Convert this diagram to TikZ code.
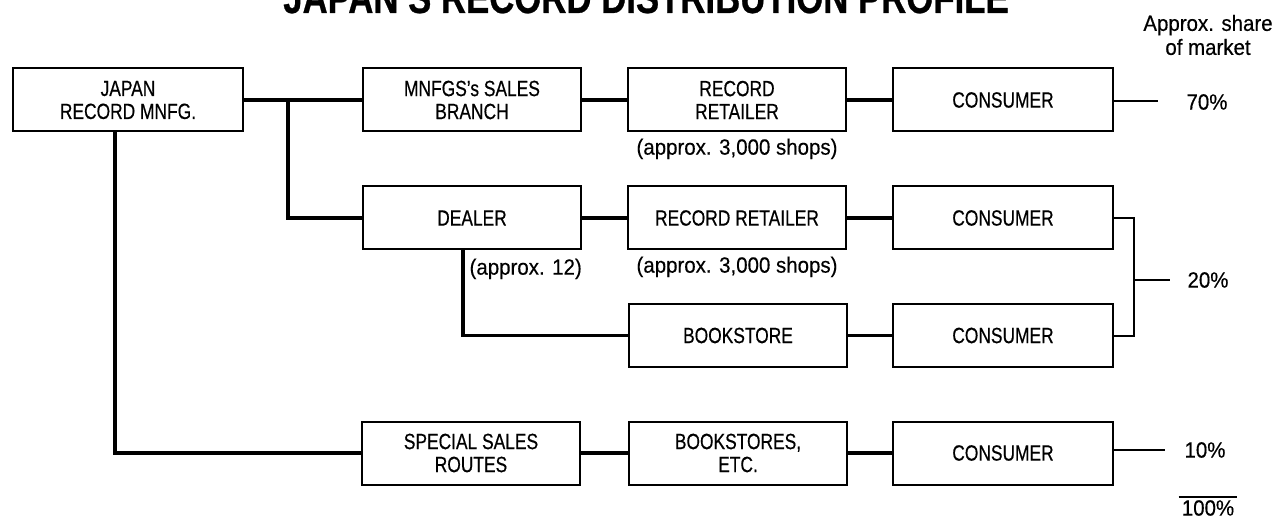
\documentclass[tikz,border=0pt]{standalone}
\usepackage{fontspec}
\setmainfont{Liberation Sans}[FakeStretch=0.79,FakeBold=0.5]
\newfontfamily\notefont{Liberation Sans}[FakeStretch=0.93,FakeBold=0.4]
\newfontfamily\titlefont{Liberation Sans Bold}[FakeStretch=0.79,FakeBold=0.6]
\usetikzlibrary{positioning}
\tikzset{
  box/.style   = {draw, line width=2pt, rectangle, minimum height=63pt,
                  minimum width=218pt, inner sep=0pt, align=center,
                  font=\fontsize{22}{23}\selectfont},
  note/.style  = {inner sep=0pt, font=\notefont\fontsize{22}{24}\selectfont},
  link/.style  = {line width=3.5pt, line join=miter},
  share/.style = {line width=1.6pt, line join=miter},
}

\begin{document}
\begin{tikzpicture}[x=1pt,y=-1pt]
\useasboundingbox (0,0) rectangle (1276,521);
\node[anchor=base,font=\titlefont\fontsize{44}{44}\selectfont] (title) at (646,13) {JAPAN’S RECORD DISTRIBUTION PROFILE};
\node[note,align=center] (head) at (1208,35) {Approx. share\\of market};
\node[box,minimum width=230pt] (mfr) at (128,100) {JAPAN\\RECORD MNFG.};
\node[box] (branch) at (472,100) {MNFGS’s SALES\\BRANCH};
\node[box] (retailA) at (737,100) {RECORD\\RETAILER};
\node[box,minimum width=220pt] (consA) at (1003,100) {CONSUMER};
\node[box] (dealer) at (472,218) {DEALER};
\node[box] (retailB) at (737,218) {RECORD RETAILER};
\node[box,minimum width=220pt] (consB) at (1003,218) {CONSUMER};
\node[box] (book) at (738,335.5) {BOOKSTORE};
\node[box,minimum width=220pt] (consC) at (1003,335.5) {CONSUMER};
\node[box] (special) at (471,453) {SPECIAL SALES\\ROUTES};
\node[box] (bookEtc) at (738,453) {BOOKSTORES,\\ETC.};
\node[box,minimum width=220pt] (consD) at (1003,453) {CONSUMER};
\node[note,below=6pt of retailA] (shopsA) {(approx. 3,000 shops)};
\node[note,below=6pt of retailB] (shopsB) {(approx. 3,000 shops)};
\node[note,below left=8pt and 0pt of dealer.south east] (dealers) {(approx. 12)};
\node[note] (pa) at (1207,102) {70\%};
\node[note] (pb) at (1208,280) {20\%};
\node[note] (pd) at (1205,450) {10\%};
\node[note] (total) at (1208,508) {100\%};
\coordinate (split) at (288,100);
\coordinate (ea) at (1158,101);
\coordinate (jb) at (1134,280);
\coordinate (eb) at (1170,280);
\coordinate (ed) at (1165,450);
\draw[link] (mfr) -- (branch);
\draw[link] (split) |- (dealer.west);
\draw[link] ([xshift=-13pt]mfr.south) |- (special.west);
\draw[link] ([xshift=-9pt]dealer.south) |- (book.west);
\draw[link] (branch) -- (retailA);
\draw[link] (retailA) -- (consA);
\draw[link] (dealer) -- (retailB);
\draw[link] (retailB) -- (consB);
\draw[link] (book) -- (consC);
\draw[link] (special) -- (bookEtc);
\draw[link] (bookEtc) -- (consD);
\draw[share] (consA.east |- ea) -- (ea);
\draw[share,line width=2pt] (consB.east) -| (jb) |- (consC.east);
\draw[share] (jb) -- (eb);
\draw[share] (consD.east |- ed) -- (ed);
\draw[share] ([xshift=-3pt,yshift=3pt]total.north west) -- ([xshift=3pt,yshift=3pt]total.north east);
\end{tikzpicture}
\end{document}
